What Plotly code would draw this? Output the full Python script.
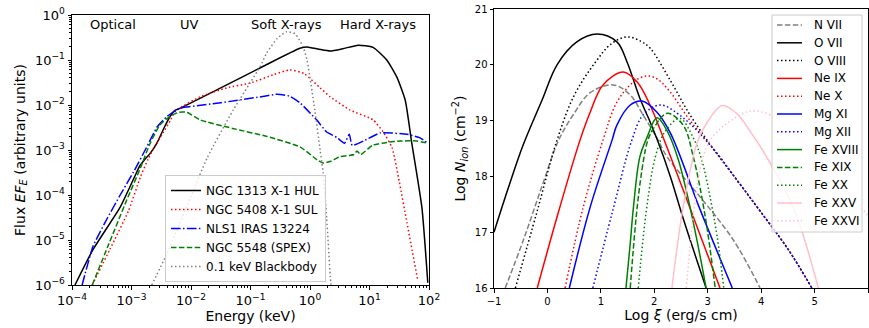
import numpy as np
import plotly.graph_objects as go

W, H = 869, 328
FONT = "DejaVu Sans"

# ---------------- Left panel data: log10(Energy / keV), log10(Flux) ----------------
hul_logE = [-3.95, -3.65, -3.19, -2.95, -2.86, -2.77, -2.69, -2.57, -2.45, -2.35, -2.27, -2.18,
            -1.5, -0.8, -0.17, -0.05, 0.15, 0.34, 0.55, 0.81, 1.06, 1.29, 1.46, 1.60, 1.71, 1.88, 1.98]
hul_logF = [-6.0, -5.22, -4.27, -3.6, -3.35, -3.2, -3.08, -2.84, -2.5, -2.25, -2.12, -2.07,
            -1.62, -1.15, -0.74, -0.71, -0.76, -0.80, -0.75, -0.67, -0.72, -1.0, -1.38, -1.89, -2.84, -4.27, -5.95]

sul_logE = [-3.66, -3.36, -3.05, -2.85, -2.72, -2.6, -2.47, -2.35, -2.27, -2.18, -1.85, -1.4, -1.0,
            -0.6, -0.34, -0.1, 0.17, 0.34, 0.67, 1.06, 1.23, 1.38, 1.5, 1.63, 1.81]
sul_logF = [-6.0, -5.2, -4.35, -3.6, -3.2, -2.9, -2.62, -2.35, -2.15, -2.06, -1.82, -1.62, -1.51,
            -1.32, -1.22, -1.3, -1.62, -1.82, -2.11, -2.33, -2.6, -2.95, -3.7, -4.62, -5.89]

iras_logE = [-3.83, -3.65, -3.4, -3.19, -2.95, -2.75, -2.57, -2.4, -2.24, -2.18, -1.5, -0.84, -0.55,
             -0.35, -0.17, 0.11, 0.28, 0.45, 0.58, 0.66, 0.71, 0.9, 1.18, 1.63, 1.85, 1.98]
iras_logF = [-6.0, -5.15, -4.5, -4.0, -3.45, -2.95, -2.49, -2.25, -2.11, -2.07, -1.95, -1.82, -1.76,
             -1.8, -1.95, -2.33, -2.6, -2.72, -2.85, -2.65, -2.9, -2.8, -2.62, -2.65, -2.73, -2.85]

spex_logE = [-3.66, -3.4, -3.08, -2.85, -2.69, -2.52, -2.35, -2.2, -2.07, -1.85, -1.3, -0.72, -0.17,
             0.12, 0.22, 0.35, 0.50, 0.66, 0.74, 0.79, 0.85, 1.06, 1.3, 1.51, 1.8, 1.98]
spex_logF = [-6.0, -5.15, -4.11, -3.4, -2.86, -2.44, -2.25, -2.16, -2.16, -2.33, -2.52, -2.7, -2.93,
             -3.22, -3.29, -3.25, -3.15, -3.12, -3.1, -3.02, -3.1, -2.89, -2.83, -2.8, -2.8, -2.85]

bb_logE = [-2.66, -2.4, -2.0, -1.73, -1.29, -0.84, -0.73, -0.55, -0.39, -0.25, -0.12, -0.05,
           0.08, 0.17, 0.22, 0.28, 0.34, 0.36]
bb_logF = [-6.0, -5.29, -4.03, -3.18, -2.11, -1.15, -0.85, -0.52, -0.37, -0.42, -0.7, -1.0,
           -2.11, -3.0, -3.5, -4.5, -5.8, -6.1]

left_names = ["NGC 1313 X-1 HUL", "NGC 5408 X-1 SUL", "NLS1 IRAS 13224", "NGC 5548 (SPEX)",
              "0.1 keV Blackbody"]

region_labels = ["Optical", "UV", "Soft X-rays", "Hard X-rays"]
region_logE = [-3.31, -2.02, -0.39, 1.14]
region_logF = -0.22

left_x_exps = [-4, -3, -2, -1, 0, 1, 2]
left_y_exps = [-6, -5, -4, -3, -2, -1, 0]

# ---------------- Right panel data: Log xi, Log N_ion ----------------
n7_x = [-0.79, -0.45, -0.1, 0.21, 0.48, 0.80, 1.23, 1.55, 1.79, 2.05, 2.24, 2.86, 3.48, 3.98]
n7_y = [16.0, 16.86, 17.83, 18.65, 19.1, 19.5, 19.64, 19.46, 19.1, 18.69, 18.35, 17.63, 16.86, 16.0]

o7_x = [-1.0, -0.73, -0.46, -0.1, 0.18, 0.55, 0.93, 1.30, 1.49, 1.73, 1.92, 2.07, 2.30, 2.54, 2.97]
o7_y = [17.0, 17.8, 18.55, 19.37, 20.0, 20.41, 20.55, 20.41, 20.05, 19.4, 18.98, 18.62, 18.0, 17.25, 16.0]

o8_x = [-0.6, -0.2, 0.18, 0.5, 0.9, 1.2, 1.49, 1.75, 1.92, 2.30, 2.67, 3.10, 3.55, 3.98, 4.5, 4.95]
o8_y = [16.0, 17.35, 18.65, 19.45, 20.05, 20.38, 20.5, 20.42, 20.3, 19.72, 19.1, 18.5, 17.93, 17.38, 16.7, 16.0]

ne9_x = [-0.19, 0.2, 0.61, 0.80, 1.04, 1.42, 1.68, 1.92, 2.17, 2.54, 3.23]
ne9_y = [16.0, 17.34, 18.65, 19.15, 19.64, 19.87, 19.69, 19.28, 18.69, 17.76, 16.0]

ne10_x = [0.33, 0.67, 1.04, 1.30, 1.61, 1.86, 2.05, 2.30, 2.67, 3.10, 3.55, 3.98, 4.5, 4.95]
ne10_y = [16.0, 17.45, 18.65, 19.33, 19.69, 19.8, 19.75, 19.51, 19.0, 18.5, 17.93, 17.38, 16.7, 16.0]

mg11_x = [0.41, 0.8, 1.21, 1.30, 1.55, 1.77, 2.05, 2.30, 2.86, 3.46]
mg11_y = [16.0, 17.45, 18.65, 18.92, 19.28, 19.35, 19.15, 18.78, 17.4, 16.0]

mg12_x = [0.85, 1.21, 1.58, 1.79, 2.11, 2.54, 3.10, 3.55, 3.98, 4.5, 4.95]
mg12_y = [16.0, 17.34, 18.65, 19.1, 19.28, 19.05, 18.5, 17.93, 17.38, 16.7, 16.0]

fe18_x = [1.47, 1.55, 1.61, 1.73, 1.86, 2.05, 2.25, 2.45, 2.61, 2.8, 2.97]
fe18_y = [16.0, 16.8, 17.45, 18.35, 18.69, 19.05, 18.8, 18.3, 17.7, 16.85, 16.0]

fe19_x = [1.55, 1.68, 1.80, 1.88, 1.98, 2.24, 2.54, 2.73, 2.95, 3.14]
fe19_y = [16.0, 17.45, 18.3, 18.65, 18.85, 19.13, 18.92, 18.35, 17.3, 16.0]

fe20_x = [1.70, 1.86, 2.02, 2.2, 2.48, 2.73, 2.89, 3.05, 3.18, 3.30]
fe20_y = [16.0, 17.45, 18.35, 18.8, 19.04, 18.69, 18.29, 17.6, 16.9, 16.0]

fe25_x = [2.33, 2.54, 2.80, 2.99, 3.27, 3.55, 3.80, 4.07, 4.6, 5.07]
fe25_y = [16.0, 17.45, 18.6, 18.97, 19.27, 19.12, 18.8, 18.4, 17.45, 16.0]

fe26_x = [2.6, 2.75, 2.9, 3.05, 3.36, 3.8, 4.17, 4.6, 5.0, 5.5, 6.0]
fe26_y = [16.0, 17.45, 18.3, 18.65, 18.95, 19.17, 19.1, 18.8, 18.4, 17.85, 17.3]

ion_names = ["N VII", "O VII", "O VIII", "Ne IX", "Ne X", "Mg XI", "Mg XII",
             "Fe XVIII", "Fe XIX", "Fe XX", "Fe XXV", "Fe XXVI"]

# ---------------- styles ----------------
DOT = "1.5px,2.5px"
DASH = "5.5px,2.4px"
DASHDOT = "9.6px,2.4px,1.5px,2.4px"

left_series = [
    (hul_logE, hul_logF, "black", "solid", 0.5),
    (sul_logE, sul_logF, "red", DOT, 0.5),
    (iras_logE, iras_logF, "blue", DASHDOT, 0.4),
    (spex_logE, spex_logF, "green", DASH, 0.5),
    (bb_logE, bb_logF, "gray", DOT, 0.6),
]

right_series = [
    (n7_x, n7_y, "gray", DASH),
    (o7_x, o7_y, "black", "solid"),
    (o8_x, o8_y, "black", DOT),
    (ne9_x, ne9_y, "red", "solid"),
    (ne10_x, ne10_y, "red", DOT),
    (mg11_x, mg11_y, "blue", "solid"),
    (mg12_x, mg12_y, "blue", DOT),
    (fe18_x, fe18_y, "green", "solid"),
    (fe19_x, fe19_y, "green", DASH),
    (fe20_x, fe20_y, "green", DOT),
    (fe25_x, fe25_y, "pink", "solid"),
    (fe26_x, fe26_y, "pink", DOT),
]

fig = go.Figure()

for (lx, ly, col, dash, sm), name in zip(left_series, left_names):
    fig.add_trace(go.Scatter(
        x=10 ** np.array(lx), y=10 ** np.array(ly), mode="lines", name=name,
        line=dict(color=col, width=1.5, dash=dash, shape="spline", smoothing=sm),
        xaxis="x", yaxis="y", legend="legend", hoverinfo="skip"))

for (rx, ry, col, dash), name in zip(right_series, ion_names):
    fig.add_trace(go.Scatter(
        x=rx, y=ry, mode="lines", name=name, showlegend=False,
        line=dict(color=col, width=1.5, dash=dash, shape="spline", smoothing=1.0),
        xaxis="x2", yaxis="y2", hoverinfo="skip"))

def px_x(p):
    return p / W

def px_y(p):
    return 1 - p / H

minor_vals = [m * 10.0 ** k for k in range(-7, 3) for m in range(2, 10)]

def sup_label(e):
    return "10<sup>" + (("\u2212" + str(-e)) if e < 0 else str(e)) + "</sup>"

axis_common = dict(showline=True, linecolor="black", linewidth=1, mirror=True,
                   showgrid=False, zeroline=False, ticks="outside", ticklen=3.5,
                   tickwidth=1, tickcolor="black", automargin=False)

fig.update_layout(
    width=W, height=H, margin=dict(l=0, r=0, t=0, b=0, autoexpand=False),
    paper_bgcolor="white", plot_bgcolor="white",
    font=dict(family=FONT, color="black"),
    xaxis=dict(type="log", range=[-4, 2], domain=[px_x(72), px_x(429)], anchor="y",
               tickmode="array", tickvals=[10.0 ** e for e in left_x_exps],
               ticktext=[sup_label(e) for e in left_x_exps], tickfont=dict(size=13),
               minor=dict(tickmode="array", tickvals=minor_vals, ticks="outside",
                          ticklen=2, tickwidth=0.7, tickcolor="black", showgrid=False),
               title=dict(text="Energy (keV)", font=dict(size=14), standoff=3),
               **axis_common),
    yaxis=dict(type="log", range=[-6, 0], domain=[1 - 285 / H, 1 - 15 / H], anchor="x",
               tickmode="array", tickvals=[10.0 ** e for e in left_y_exps],
               ticktext=[sup_label(e) for e in left_y_exps], tickfont=dict(size=13),
               minor=dict(tickmode="array", tickvals=minor_vals, ticks="outside",
                          ticklen=2, tickwidth=0.7, tickcolor="black", showgrid=False),
               title=dict(text="Flux <i>EF<sub>E</sub></i> (arbitrary units)",
                          font=dict(size=14), standoff=6),
               **axis_common),
    xaxis2=dict(range=[-1, 6], domain=[px_x(494), px_x(868)], anchor="y2",
                tickmode="linear", tick0=-1, dtick=1, tickfont=dict(size=10),
                title=dict(text="Log <i>\u03be</i> (erg/s cm)", font=dict(size=14), standoff=4),
                **axis_common),
    yaxis2=dict(range=[16, 21], domain=[1 - 288 / H, 1 - 9 / H], anchor="x2",
                tickmode="linear", tick0=16, dtick=1, tickfont=dict(size=10),
                title=dict(text="Log <i>N<sub>ion</sub></i> (cm<sup>\u22122</sup>)",
                           font=dict(size=14), standoff=5),
                **axis_common),
    legend=dict(x=px_x(165), y=px_y(175), xanchor="left", yanchor="top",
                bgcolor="rgba(255,255,255,0.8)", bordercolor="#cccccc", borderwidth=1,
                font=dict(size=12, family=FONT), itemwidth=30, tracegroupgap=0),
    showlegend=True,
)

# Region labels on left panel
for lab, le in zip(region_labels, region_logE):
    fig.add_annotation(x=le, y=region_logF, xref="x", yref="y", text=lab, showarrow=False,
                       font=dict(size=13), xanchor="center", yanchor="middle")

# Manual legend for right panel (compact spacing like the reference)
leg_left, leg_right, leg_top, leg_bot = 772, 862, 15, 232
row0, row_gap = 25, 17.8
shapes = [dict(type="rect", xref="paper", yref="paper",
               x0=px_x(leg_left), x1=px_x(leg_right), y0=px_y(leg_bot), y1=px_y(leg_top),
               fillcolor="rgba(255,255,255,0.8)", line=dict(color="#cccccc", width=1),
               layer="above")]
for i, ((rx, ry, col, dash), name) in enumerate(zip(right_series, ion_names)):
    yc = row0 + i * row_gap
    shapes.append(dict(type="line", xref="paper", yref="paper",
                       x0=px_x(777), x1=px_x(802), y0=px_y(yc), y1=px_y(yc),
                       line=dict(color=col, width=1.5, dash=dash), layer="above"))
    fig.add_annotation(x=px_x(811.5), y=px_y(yc), xref="paper", yref="paper", text=name,
                       showarrow=False, xanchor="left", yanchor="middle",
                       font=dict(size=12))
fig.update_layout(shapes=shapes)

fig.write_html("out.html")
